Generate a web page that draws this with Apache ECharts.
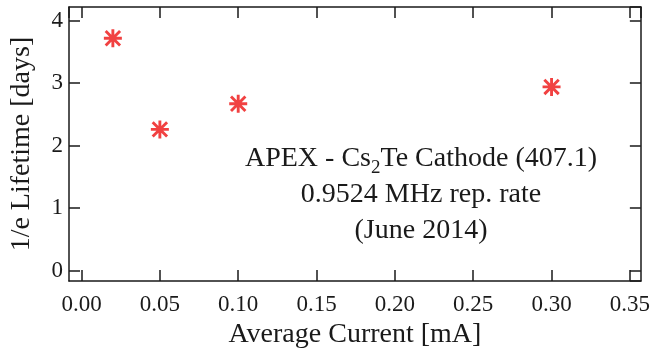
<!DOCTYPE html>
<html>
<head>
<meta charset="utf-8">
<script src="https://cdn.jsdelivr.net/npm/echarts@6/dist/echarts.min.js"></script>
<style>
  html, body { margin: 0; padding: 0; background: #fff; }
  #container { width: 653px; height: 354px; }
</style>
</head>
<body>
<div id="container"></div>
<script>
// measured values: average current [mA] vs 1/e lifetime [days]
var currentMA = [0.02, 0.05, 0.10, 0.30];
var lifetimeDays = [3.72, 2.26, 2.67, 2.94];

// axis extents: the box reaches a bit past the first/last tick (Igor style)
var xMin = -0.008, xMax = 0.357;
var yMin = -0.17, yMax = 4.22;

var FONT = 'Liberation Serif, Times New Roman, serif';
var INK = '#1a1a1a';

// 8-armed asterisk marker
var starPath = 'path://M0 8.4L20 8.4L20 11.6L0 11.6Z' +
    'M8.4 0L11.6 0L11.6 20L8.4 20Z' +
    'M3.13 0.87L19.13 16.87L16.87 19.13L0.87 3.13Z' +
    'M16.87 0.87L19.13 3.13L3.13 19.13L0.87 16.87Z';

var points = currentMA.map(function (x, i) { return [x, lifetimeDays[i]]; });

var dom = document.getElementById('container');
var myChart = echarts.init(dom, null, { renderer: 'canvas' });

var lineStyle = { color: INK, width: 1.5 };
var tickStyle = { show: true, inside: true, length: 11, lineStyle: lineStyle };

// only label the round ticks, not the box edges
function xFmt(v) {
    var k = Math.round(v / 0.05);
    return Math.abs(v - k * 0.05) < 1e-6 ? v.toFixed(2) : '';
}
function yFmt(v) {
    return Math.abs(v - Math.round(v)) < 1e-6 ? String(Math.round(v)) : '';
}

function xAxisDef(pos, labels) {
    return {
        type: 'value', position: pos,
        min: xMin, max: xMax, splitNumber: 7,
        axisLine: { show: true, onZero: false, lineStyle: lineStyle },
        axisTick: tickStyle,
        splitLine: { show: false },
        axisLabel: labels ? {
            color: INK, fontFamily: FONT, fontSize: 23, margin: 12,
            showMinLabel: false, showMaxLabel: false, formatter: xFmt
        } : { show: false }
    };
}
function yAxisDef(pos, labels) {
    return {
        type: 'value', position: pos,
        min: yMin, max: yMax, splitNumber: 4,
        axisLine: { show: true, onZero: false, lineStyle: lineStyle },
        axisTick: tickStyle,
        splitLine: { show: false },
        axisLabel: labels ? {
            color: INK, fontFamily: FONT, fontSize: 23, margin: 6,
            showMinLabel: false, showMaxLabel: false, formatter: yFmt
        } : { show: false }
    };
}

var xBottom = xAxisDef('bottom', true);
xBottom.name = 'Average Current [mA]';
xBottom.nameLocation = 'middle';
xBottom.nameGap = 31;
xBottom.nameTextStyle = { color: INK, fontFamily: FONT, fontSize: 28 };

var yLeft = yAxisDef('left', true);
yLeft.name = '1/e Lifetime [days]';
yLeft.nameLocation = 'middle';
yLeft.nameGap = 33;
yLeft.nameTextStyle = { color: INK, fontFamily: FONT, fontSize: 28 };

var option = {
    backgroundColor: '#fff',
    animation: false,
    grid: { left: 68, top: 7, right: 5, bottom: 70 },
    xAxis: [xBottom, xAxisDef('top', false)],
    yAxis: [yLeft, yAxisDef('right', false)],
    graphic: [
        {
            type: 'text', x: 421, y: 158.5, silent: true,
            style: {
                text: '{a|APEX - Cs}{s|2}{a|Te Cathode (407.1)}',
                align: 'center', verticalAlign: 'middle',
                fill: INK, font: '28px ' + FONT,
                rich: {
                    a: { fontFamily: FONT, fontSize: 28, lineHeight: 40, fill: INK },
                    s: { fontFamily: FONT, fontSize: 19, lineHeight: 19, padding: [20, 0, 0, 0], fill: INK }
                }
            }
        },
        {
            type: 'text', x: 421, y: 194.5, silent: true,
            style: { text: '0.9524 MHz rep. rate', align: 'center', verticalAlign: 'middle', fill: INK, font: '28px ' + FONT }
        },
        {
            type: 'text', x: 421, y: 230.5, silent: true,
            style: { text: '(June 2014)', align: 'center', verticalAlign: 'middle', fill: INK, font: '28px ' + FONT }
        }
    ],
    series: [
        {
            type: 'scatter',
            xAxisIndex: 0, yAxisIndex: 0,
            data: points,
            symbol: starPath,
            symbolSize: 18,
            itemStyle: { color: '#ee1111' }
        }
    ]
};

if (option && typeof option === 'object') {
    myChart.setOption(option, true);
}
</script>
</body>
</html>
